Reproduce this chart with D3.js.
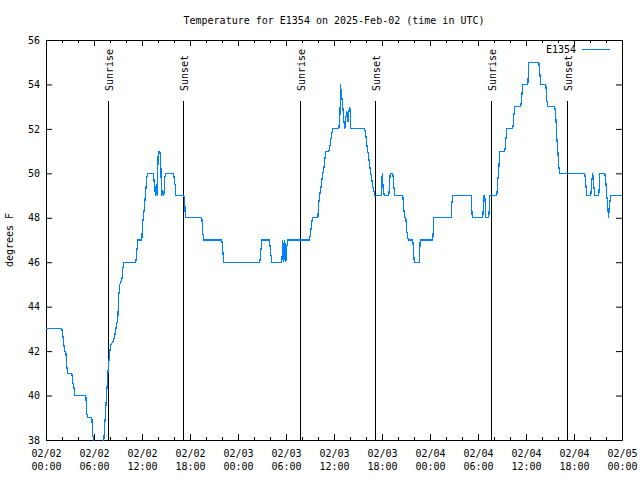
<!DOCTYPE html>
<html><head><meta charset="utf-8">
<script src="https://cdn.jsdelivr.net/npm/d3@7"></script>
<style>
body{margin:0;background:#fff}
svg{display:block}
text{font-family:"DejaVu Sans Mono","Liberation Mono",monospace;font-size:10px;fill:#000}
</style>
</head><body>
<svg id="chart" width="640" height="480"></svg>
<script>
// ---- data ----
const chartTitle = "Temperature for E1354 on 2025-Feb-02 (time in UTC)";
const seriesName = "E1354";
const yAxisLabel = "degrees F";
// hours since 2025-02-02 00:00 UTC
const hours = [0.00,1.98,2.10,2.23,2.31,2.48,2.60,2.73,3.23,3.35,3.48,3.60,4.98,5.10,5.23,5.73,5.85,5.98,6.06,7.06,7.23,7.35,7.48,7.60,7.73,7.85,7.98,8.10,8.35,8.60,8.73,8.98,9.10,9.23,9.48,9.60,9.73,11.23,11.35,11.48,11.98,12.06,12.23,12.35,12.48,12.60,12.73,13.44,13.56,13.69,13.78,13.90,14.03,14.23,14.35,14.40,14.48,14.60,14.73,14.85,14.98,15.94,16.06,16.19,16.23,17.23,17.35,17.38,17.48,19.48,19.60,19.73,21.98,22.10,22.23,26.73,26.85,26.98,27.94,28.06,28.23,29.48,29.60,29.73,29.85,29.98,30.10,30.23,32.94,33.06,33.19,33.31,33.98,34.06,34.19,34.35,34.48,34.60,34.73,34.85,34.98,35.35,35.48,35.60,35.73,35.85,36.60,36.73,36.78,36.81,36.90,36.98,37.10,37.23,37.35,37.48,37.60,37.73,37.85,37.98,38.06,38.10,39.85,39.98,40.10,40.23,40.35,40.48,40.60,40.73,40.85,40.98,41.10,41.90,42.03,42.15,42.28,42.85,43.03,43.35,43.48,43.60,44.60,44.73,44.85,44.98,45.10,45.28,45.85,45.94,46.03,46.65,46.78,48.35,48.48,50.65,50.73,50.81,53.15,53.28,54.60,54.73,54.85,54.98,55.35,55.48,56.35,56.48,56.60,56.73,57.35,57.48,57.60,58.35,58.48,58.60,59.35,59.48,59.60,60.23,60.35,61.60,61.73,61.85,62.48,62.60,62.73,63.60,63.73,63.85,63.98,64.10,64.23,67.35,67.48,67.60,68.10,68.23,68.35,68.48,68.60,69.10,69.23,69.85,69.98,70.10,70.23,70.31,70.44,70.56,71.94];
const tempsF = [43,43,42.7,42.3,42,42,41.3,41,41,40.6,40.4,40,40,39.2,39,39,38.25,37.8,37.5,37.5,38,38.7,39.5,40.2,41,41.5,42,42.3,42.4,42.7,43,43.5,44.5,45,45.2,45.7,46,46,46.5,47,47,47.7,48.2,48.7,49.25,49.8,50,50,49.4,49,49.5,49,51,51,50.5,49.6,49,49.25,49,49.8,50,50,49.7,49.3,49,49,48.8,48.3,48,48,47.3,47,47,46.5,46,46,46.5,47,47,46.5,46,46,47,46,47,46,46.7,47,47,47.3,47.7,48,48,48.5,49,49.3,49.7,50,50.2,50.6,51,51,51.2,51.5,51.8,52,52,52.5,53.2,54,53.7,53.4,53,52.4,52,52.5,52.8,52.3,52.8,53,52.4,52,52,51.7,51.3,51,50.7,50.3,50,49.7,49.4,49.2,49,49,50,49.3,49,49,50,50,49.4,49,49,48.4,48,48,47.4,47,47,46.5,46,46,47,47,48,48,48.6,49,49,48,48,49,49,48,48,49,49,49.7,50.2,51,51,51.5,52,52,52.6,53,53,53.5,54,54,55,55,54.5,54,54,53.3,53,53,52.5,51.6,51,50.3,50,50,49.5,49,49,49.7,50,49.4,49,49,50,50,49.6,49,48.5,48,48.5,49,49];
const sunriseHours = [7.73, 31.73, 55.6];
const sunsetHours = [17.15, 41.1, 65.1];
const yTickValues = [38,40,42,44,46,48,50,52,54,56];
const xMajorHours = [0,6,12,18,24,30,36,42,48,54,60,66,72];
const xMinorHours = [2,4,8,10,14,16,20,22,26,28,32,34,38,40,44,46,50,52,56,58,62,64,68,70];

// ---- setup ----
const start = Date.UTC(2025, 1, 2, 0, 0);
const toDate = h => new Date(start + h * 3600000);
const L = 46, R = 622, T = 40, B = 440;
const svg = d3.select("#chart");
const x = d3.scaleUtc().domain([toDate(0), toDate(72)]).range([L, R]);
const y = d3.scaleLinear().domain([38, 56]).range([B, T]);

// title
svg.append("text").attr("x", (L + R) / 2).attr("y", 24)
  .attr("text-anchor", "middle").text(chartTitle);

// y label
svg.append("text").attr("transform", "translate(13,240) rotate(-90)")
  .attr("text-anchor", "middle").text(yAxisLabel);

const fmtDay = d3.utcFormat("%m/%d"), fmtTime = d3.utcFormat("%H:%M");

// bottom axis major
svg.append("g").attr("transform", `translate(0,${B})`)
  .call(d3.axisBottom(x).tickValues(xMajorHours.map(toDate)).tickSizeInner(-6).tickSizeOuter(0).tickPadding(10))
  .call(g => g.selectAll(".tick text").each(function(d) {
    const t = d3.select(this); t.text(null);
    t.append("tspan").attr("x", 0).text(fmtDay(d));
    t.append("tspan").attr("x", 0).attr("dy", 13).text(fmtTime(d));
  }));
svg.append("g").attr("transform", `translate(0,${B})`)
  .call(d3.axisBottom(x).tickValues(xMinorHours.map(toDate)).tickSizeInner(-3).tickSizeOuter(0).tickFormat(""))
  .call(g => g.select(".domain").remove());
// top axis
svg.append("g").attr("transform", `translate(0,${T})`)
  .call(d3.axisTop(x).tickValues(xMajorHours.map(toDate)).tickSizeInner(-6).tickSizeOuter(0).tickFormat(""));
svg.append("g").attr("transform", `translate(0,${T})`)
  .call(d3.axisTop(x).tickValues(xMinorHours.map(toDate)).tickSizeInner(-3).tickSizeOuter(0).tickFormat(""))
  .call(g => g.select(".domain").remove());
// left / right
svg.append("g").attr("transform", `translate(${L},0)`)
  .call(d3.axisLeft(y).tickValues(yTickValues).tickSizeInner(-6).tickSizeOuter(0).tickPadding(6).tickFormat(d3.format("d")));
svg.append("g").attr("transform", `translate(${R},0)`)
  .call(d3.axisRight(y).tickValues(yTickValues).tickSizeInner(-6).tickSizeOuter(0).tickFormat(""));

svg.selectAll("g").attr("font-family", null).attr("font-size", null);

// sunrise / sunset markers
const markers = sunriseHours.map(h => ({h, label: "Sunrise"}))
  .concat(sunsetHours.map(h => ({h, label: "Sunset"})));
markers.forEach(m => {
  const mx = Math.round(x(toDate(m.h))) + 0.5;
  svg.append("line").attr("x1", mx).attr("x2", mx).attr("y1", 101).attr("y2", B)
    .attr("stroke", "#000").attr("stroke-width", 1);
  svg.append("text").attr("transform", `translate(${mx + 4},91) rotate(-90)`)
    .attr("text-anchor", "start").text(m.label);
});

// clip
svg.append("clipPath").attr("id", "plotclip").append("rect")
  .attr("x", L).attr("y", T).attr("width", R - L + 1).attr("height", B - T + 1);

const data = hours.map((h, i) => ({date: toDate(h), v: tempsF[i]}));
svg.append("path").datum(data)
  .attr("clip-path", "url(#plotclip)")
  .attr("fill", "none").attr("stroke", "#0080ff").attr("stroke-width", 1.2)
  .attr("shape-rendering", "crispEdges")
  .attr("d", d3.line().x(d => x(d.date)).y(d => y(d.v)));

// legend
svg.append("text").attr("x", 576).attr("y", 53).attr("text-anchor", "end").text(seriesName);
svg.append("line").attr("x1", 582).attr("x2", 610).attr("y1", 49.5).attr("y2", 49.5)
  .attr("stroke", "#0080ff").attr("stroke-width", 1);
</script>
</body></html>
